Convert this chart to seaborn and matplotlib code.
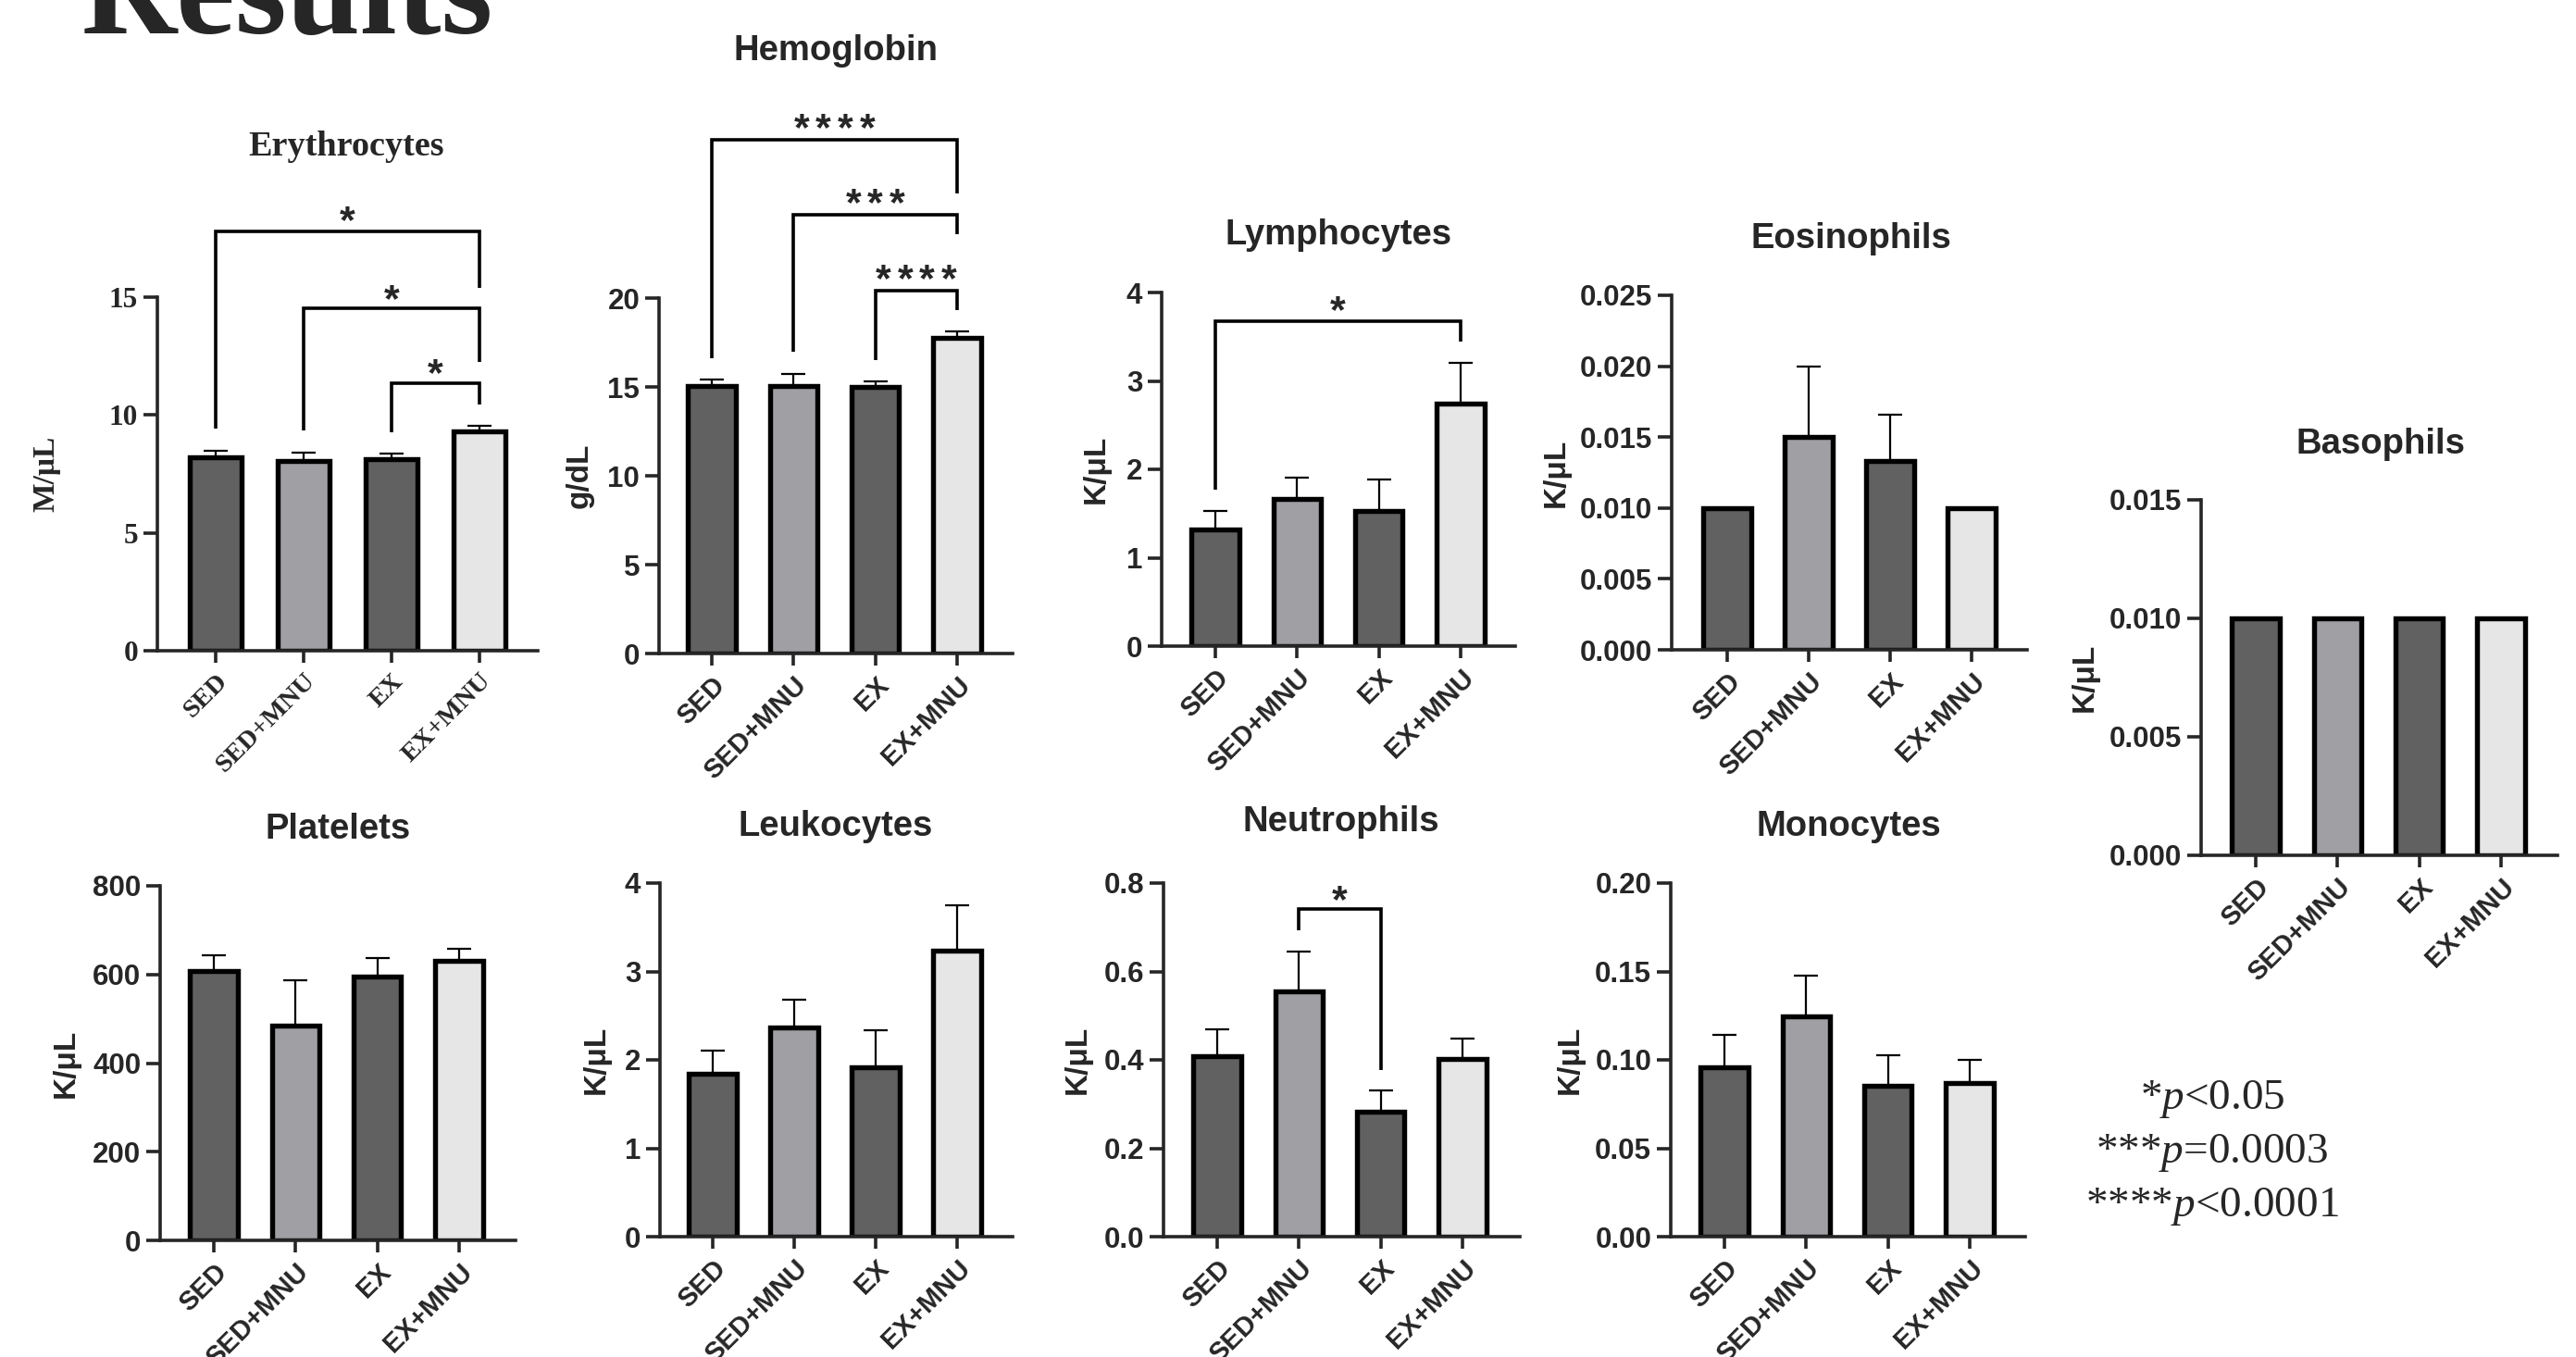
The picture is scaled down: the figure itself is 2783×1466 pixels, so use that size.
import numpy as np
import pandas as pd
import matplotlib
matplotlib.use('Agg')
from matplotlib import pyplot as plt
import seaborn as sns

W, H = 2783, 1466

groups = ['SED', 'SED+MNU', 'EX', 'EX+MNU']
bar_colors = ['#616161', '#a09fa4', '#616161', '#e6e6e6']

# mean and SEM per group
ery_mean = [8.20, 8.05, 8.12, 9.32]
ery_sem = [0.27, 0.37, 0.25, 0.21]
hgb_mean = [15.05, 15.05, 15.00, 17.75]
hgb_sem = [0.35, 0.67, 0.33, 0.35]
lym_mean = [1.32, 1.67, 1.53, 2.74]
lym_sem = [0.21, 0.24, 0.36, 0.46]
eos_mean = [0.010, 0.015, 0.0133, 0.010]
eos_sem = [0.0, 0.005, 0.0033, 0.0]
bas_mean = [0.010, 0.010, 0.010, 0.010]
bas_sem = [0.0, 0.0, 0.0, 0.0]
plt_mean = [607, 484, 595, 630]
plt_sem = [37, 103, 43, 28]
wbc_mean = [1.84, 2.37, 1.92, 3.24]
wbc_sem = [0.26, 0.31, 0.42, 0.51]
neu_mean = [0.409, 0.555, 0.282, 0.403]
neu_sem = [0.060, 0.090, 0.049, 0.045]
mon_mean = [0.0958, 0.1246, 0.0855, 0.0870]
mon_sem = [0.0182, 0.0230, 0.0173, 0.0129]

# significance brackets: (group a, group b, bar level, leg a end, leg b end, star level, n stars)
ery_brackets = [(0, 3, 17.77, 9.44, 15.4, 18.74, 1),
                (1, 3, 14.53, 9.35, 12.25, 15.4, 1),
                (2, 3, 11.33, 9.26, 10.44, 12.25, 1)]
hgb_brackets = [(0, 3, 28.9, 16.6, 25.9, 30.2, 4),
                (1, 3, 24.7, 16.97, 23.6, 26.0, 3),
                (2, 3, 20.4, 16.5, 19.3, 21.7, 4)]
lym_brackets = [(0, 3, 3.68, 1.77, 3.45, 3.93, 1)]
neu_brackets = [(1, 2, 0.741, 0.693, 0.378, 0.788, 1)]

sns.set_style('ticks')
plt.rcParams['font.family'] = ['Liberation Sans', 'DejaVu Sans']
plt.rcParams['mathtext.fontset'] = 'custom'
plt.rcParams['mathtext.rm'] = 'Liberation Serif'
plt.rcParams['mathtext.it'] = 'Liberation Serif:italic'

fig = plt.figure(figsize=(W / 100, H / 100), dpi=100)

SANS = ['Liberation Sans', 'DejaVu Sans']
SERIF = ['Liberation Serif', 'DejaVu Serif']


def add_stars(ax, xc, y, n, fs=31, pitch=17):
    for i in range(n):
        ax.annotate('*', (xc, y), xytext=((i - (n - 1) / 2) * pitch, -0.58 * fs),
                    textcoords='offset points', ha='center', va='baseline',
                    fontsize=fs, fontweight='bold', family=SANS, annotation_clip=False)


def draw_panel(p):
    left, right, zero, top = p['box']
    t0, t3 = p['tick_px']
    fam = SERIF if p.get('serif') else SANS
    ax = fig.add_axes([left / W, 1 - zero / H, (right - left) / W, (zero - top) / H])
    df = pd.DataFrame({'group': groups, 'value': p['mean']})
    sns.barplot(data=df, x='group', y='value', hue='group', palette=bar_colors,
                width=0.58, edgecolor='black', linewidth=3.9, saturation=1,
                legend=False, errorbar=None, ax=ax)
    mean = np.array(p['mean'], dtype=float)
    sem = np.array(p['sem'], dtype=float)
    m = sem > 0
    if m.any():
        ax.errorbar(np.arange(4)[m], mean[m], yerr=[np.zeros(m.sum()), sem[m]],
                    fmt='none', ecolor='black', elinewidth=1.6, capsize=9.5,
                    capthick=1.6, zorder=0.9, clip_on=False)
    for (i, j, ytop, yi, yj, ys, n) in p.get('brackets', []):
        ax.plot([i, i, j, j], [yi, ytop, ytop, yj], color='black', lw=2.6,
                clip_on=False, solid_joinstyle='miter', solid_capstyle='butt')
        add_stars(ax, (i + j) / 2, ys, n)

    spacing = (t3 - t0) / 3
    ax.set_xlim(-(t0 - left) / spacing, 3 + (right - t3) / spacing)
    ticks = p['ticks']
    ax.set_ylim(0, ticks[-1])
    ax.set_yticks(ticks, [p['fmt'] % t for t in ticks], family=fam,
                  fontweight='bold', fontsize=p.get('ytick_fs', 22.5))
    ax.set_xticks(range(4), groups, rotation=45, ha='right', rotation_mode='anchor',
                  family=fam, fontweight='bold', fontsize=p.get('xtick_fs', 21))
    ax.set_xlabel('')
    ax.set_ylabel('')
    ax.spines[['top', 'right']].set_visible(False)
    for s in ['left', 'bottom']:
        ax.spines[s].set_linewidth(2.6)
    ax.tick_params(axis='y', direction='out', length=11, width=2.6, pad=4)
    ax.tick_params(axis='x', direction='out', length=9.5, width=2.6, pad=5)

    tx, ty = p['title_pos']
    fig.text(tx / W, 1 - ty / H, p['title'], ha='center', va='center',
             fontsize=27.5, fontweight='bold', family=fam)
    fig.text(p['ylabel_x'] / W, 1 - (zero + top) / 2 / H, p['ylabel'], rotation=90,
             ha='center', va='center', fontsize=p.get('ylabel_fs', 24),
             fontweight='bold', family=fam)
    return ax


panels = [
    dict(title='Erythrocytes', ylabel='M/μL', mean=ery_mean, sem=ery_sem,
         ticks=[0, 5, 10, 15], fmt='%d', box=(170, 581, 703, 321), tick_px=(233, 518),
         title_pos=(374, 159), ylabel_x=50, brackets=ery_brackets, serif=True,
         ytick_fs=22.5, xtick_fs=20.5, ylabel_fs=24),
    dict(title='Hemoglobin', ylabel='g/dL', mean=hgb_mean, sem=hgb_sem,
         ticks=[0, 5, 10, 15, 20], fmt='%d', box=(712, 1094, 706, 322), tick_px=(769, 1034),
         title_pos=(903, 55), ylabel_x=626, brackets=hgb_brackets),
    dict(title='Lymphocytes', ylabel='K/μL', mean=lym_mean, sem=lym_sem,
         ticks=[0, 1, 2, 3, 4], fmt='%d', box=(1255, 1637, 698, 316), tick_px=(1313, 1578),
         title_pos=(1446, 254), ylabel_x=1184, brackets=lym_brackets),
    dict(title='Eosinophils', ylabel='K/μL', mean=eos_mean, sem=eos_sem,
         ticks=[0, 0.005, 0.010, 0.015, 0.020, 0.025], fmt='%.3f',
         box=(1806, 2190, 702, 319), tick_px=(1866, 2130),
         title_pos=(2000, 258), ylabel_x=1681),
    dict(title='Basophils', ylabel='K/μL', mean=bas_mean, sem=bas_sem,
         ticks=[0, 0.005, 0.010, 0.015], fmt='%.3f',
         box=(2378, 2763, 924, 540), tick_px=(2437, 2702),
         title_pos=(2572, 480), ylabel_x=2252),
    dict(title='Platelets', ylabel='K/μL', mean=plt_mean, sem=plt_sem,
         ticks=[0, 200, 400, 600, 800], fmt='%d', box=(173, 557, 1340, 957), tick_px=(231, 496),
         title_pos=(365, 896), ylabel_x=71),
    dict(title='Leukocytes', ylabel='K/μL', mean=wbc_mean, sem=wbc_sem,
         ticks=[0, 1, 2, 3, 4], fmt='%d', box=(713, 1094, 1336, 954), tick_px=(770, 1034),
         title_pos=(903, 893), ylabel_x=644),
    dict(title='Neutrophils', ylabel='K/μL', mean=neu_mean, sem=neu_sem,
         ticks=[0, 0.2, 0.4, 0.6, 0.8], fmt='%.1f', box=(1257, 1642, 1336, 954),
         tick_px=(1315, 1580), title_pos=(1449, 888), ylabel_x=1164, brackets=neu_brackets),
    dict(title='Monocytes', ylabel='K/μL', mean=mon_mean, sem=mon_sem,
         ticks=[0, 0.05, 0.10, 0.15, 0.20], fmt='%.2f', box=(1805, 2188, 1336, 954),
         tick_px=(1863, 2128), title_pos=(1997, 893), ylabel_x=1696),
]

for p in panels:
    draw_panel(p)

fig.text(88 / W, 1 - 36 / H, 'Results', ha='left', va='baseline', fontsize=103,
         fontweight='bold', family=SERIF)

legend_lines = [r'*$p$<0.05', r'***$p$=0.0003', r'****$p$<0.0001']
for k, line in enumerate(legend_lines):
    fig.text(2390 / W, 1 - (1188 + 58 * k) / H, line, ha='center', va='center',
             fontsize=34, fontweight='normal', family=SERIF)

fig.savefig('out.png', dpi=100)
